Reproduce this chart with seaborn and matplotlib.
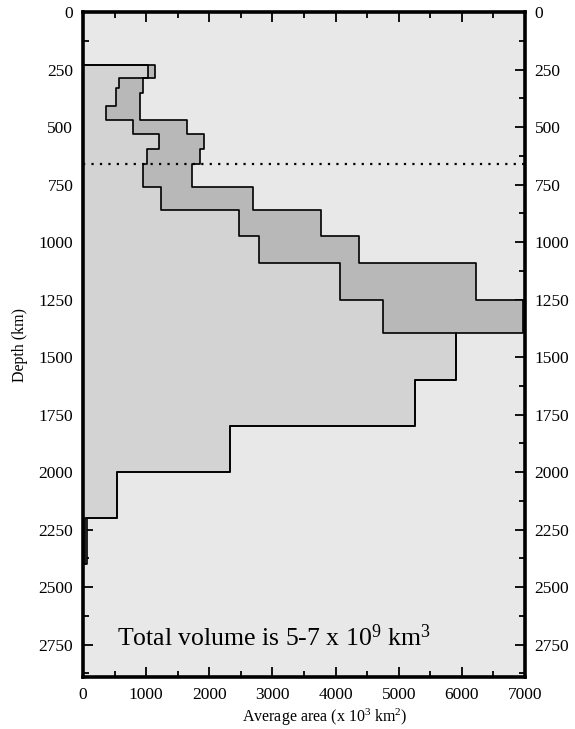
import numpy as np
import matplotlib
matplotlib.use("Agg")
import matplotlib.pyplot as plt
from matplotlib.ticker import MultipleLocator
import seaborn as sns

# Depth bin edges (km) and the minimum / maximum average area in each bin (x10^3 km^2)
depth_edges = [230, 285, 330, 350, 410, 470, 530, 595, 660, 760, 860, 975,
               1090, 1250, 1395, 1600, 1800, 2000, 2200, 2400]
area_min = [1030, 570, 520, 520, 360, 790, 1200, 1010, 950, 1240, 2470, 2790,
            4070, 4750, 5900, 5260, 2330, 540, 30]
area_max = [1140, 950, 950, 900, 900, 1650, 1910, 1860, 1720, 2700, 3770, 4370,
            6220, 6970, 5900, 5260, 2330, 540, 70]
transition_depth = 660
x_ticks = [0, 1000, 2000, 3000, 4000, 5000, 6000, 7000]
y_ticks = [0, 250, 500, 750, 1000, 1250, 1500, 1750, 2000, 2250, 2500, 2750]

sns.set_theme(style="ticks")
plt.rcParams["font.family"] = ["Liberation Serif", "DejaVu Serif"]
plt.rcParams["mathtext.fontset"] = "custom"
plt.rcParams["mathtext.rm"] = "Liberation Serif"
plt.rcParams["text.color"] = "black"
plt.rcParams["axes.labelcolor"] = "black"

fig = plt.figure(figsize=(5.75, 7.29), dpi=100)
ax = fig.add_axes([83 / 575, 1 - 677 / 729, 442 / 575, 665 / 729])
ax.set_facecolor("#e8e8e8")


def step_outline(edges, values):
    """Staircase path for a piecewise-constant profile in depth."""
    e = np.asarray(edges, float)
    v = np.asarray(values, float)
    ys = np.concatenate([[e[0]], np.repeat(e, 2)[1:-1], [e[-1]]])
    xs = np.concatenate([[0.0], np.repeat(v, 2), [0.0]])
    return xs, ys


e = np.asarray(depth_edges, float)
lo = np.append(area_min, area_min[-1])
hi = np.append(area_max, area_max[-1])

ax.fill_betweenx(e, 0, lo, step="post", color="#d3d3d3", lw=0, zorder=1)
ax.fill_betweenx(e, lo, hi, step="post", color="#b8b8b8", lw=0, zorder=1)

for vals in (area_max, area_min):
    xs, ys = step_outline(depth_edges, vals)
    sns.lineplot(x=xs, y=ys, sort=False, estimator=None, color="black",
                 lw=1.2, ax=ax, zorder=3)

ax.axhline(transition_depth, color="black", lw=1.6, ls=(0, (1, 2.8)), zorder=4)

ax.set_xlim(0, 7000)
ax.set_ylim(2891, 0)
ax.set_xticks(x_ticks)
ax.set_yticks(y_ticks)
ax.xaxis.set_minor_locator(MultipleLocator(500))
ax.yaxis.set_minor_locator(MultipleLocator(125))
ax.tick_params(which="both", direction="in", top=True, right=True,
               labelright=True, colors="black", labelsize=12.5, width=1.3)
ax.tick_params(which="major", length=7, pad=7)
ax.tick_params(which="minor", length=4)
for s in ax.spines.values():
    s.set_linewidth(2.6)
    s.set_color("black")
    s.set_zorder(5)

ax.set_xlabel(r"Average area (x $\mathregular{10^3}$ km$\mathregular{^2}$)",
              fontsize=11.5)
ax.xaxis.set_label_coords(0.548, -0.045)
ax.set_ylabel("Depth (km)", fontsize=11.5)
ax.yaxis.set_label_coords(-0.125, 0.5)

ax.text(540, 2755,
        r"Total volume is 5-7 x $\mathregular{10^9}$ km$\mathregular{^3}$",
        fontsize=18.5, ha="left", va="baseline", zorder=6)

fig.savefig("out.png", dpi=100, facecolor="white")
